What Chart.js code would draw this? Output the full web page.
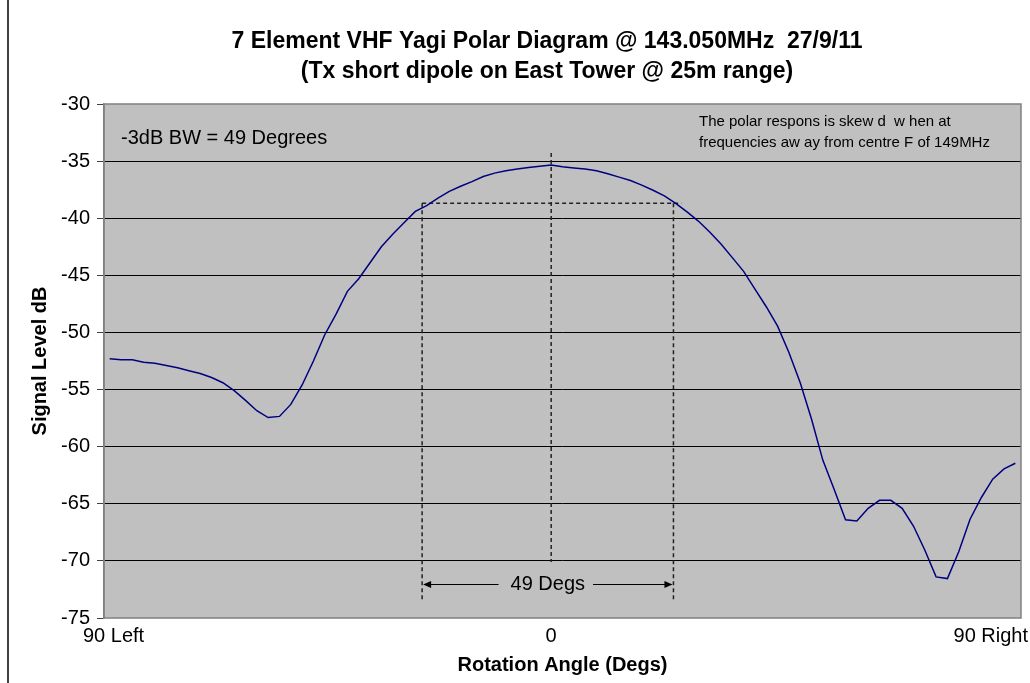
<!DOCTYPE html>
<html>
<head>
<meta charset="utf-8">
<script src="https://cdn.jsdelivr.net/npm/chart.js@4/dist/chart.umd.min.js"></script>
<style>
    html, body { margin: 0; padding: 0; background: #fff; }
    #wrap { width: 1030px; height: 683px; position: relative; }
</style>
</head>
<body>
<div id="wrap"><canvas id="polar" width="1030" height="683"></canvas></div>
<script>
// Measured signal level (dB), one reading per rotation step, left to right
const signalDb = [
    -52.3, -52.4, -52.4, -52.6, -52.7, -52.9, -53.1, -53.35, -53.6, -53.95,
    -54.4, -55.1, -55.95, -56.85, -57.45, -57.35, -56.3, -54.6, -52.5, -50.2,
    -48.4, -46.4, -45.3, -43.9, -42.5, -41.4, -40.4, -39.4, -38.9, -38.25,
    -37.65, -37.2, -36.8, -36.35, -36.05, -35.85, -35.7, -35.55, -35.45, -35.35,
    -35.5, -35.6, -35.7, -35.85, -36.1, -36.4, -36.7, -37.1, -37.55, -38.05,
    -38.7, -39.45, -40.25, -41.2, -42.25, -43.45, -44.65, -46.2, -47.75, -49.45,
    -51.75, -54.4, -57.6, -61.2, -63.75, -66.4, -66.5, -65.4, -64.7, -64.7,
    -65.4, -66.95, -69.05, -71.4, -71.55, -69.2, -66.35, -64.45, -62.85, -61.95,
    -61.45
];

// Category tick labels (only three are shown)
const tickIndex = [0, 39, 80];
const tickText = ['90 Left', '0', '90 Right'];

// Y axis range
const yMin = -75;
const yMax = -30;
const yStep = 5;

// -3dB beamwidth markers (category position / dB)
const peakIndex = 39;
const bwLevel = -38.7;
const bwLeft = 27.6;
const bwRight = 49.8;
const bwLineEnd = 50.5;
const centreTop = -34.3;
const centreBottom = -70.1;
const sideBottom = -73.6;
const arrowLevel = -72;

const titleLines = [
    '7 Element VHF Yagi Polar Diagram @ 143.050MHz  27/9/11',
    '(Tx short dipole on East Tower @ 25m range)'
];
const noteLines = [
    'The polar respons is skew d  w hen at',
    'frequencies aw ay from centre F of 149MHz'
];
const bwNote = '-3dB BW = 49 Degrees';
const bwArrowText = '49 Degs';

const FONT = '"Liberation Sans", Arial, sans-serif';

const categories = signalDb.map((v, i) => {
    const k = tickIndex.indexOf(i);
    return k >= 0 ? tickText[k] : '';
});

/**
 * Extra drawing: plot background, frame, titles and the beamwidth annotation
 */
const decorPlugin = {
    id: 'decor',
    beforeDraw(chart) {
        const ctx = chart.ctx;
        const a = chart.chartArea;
        ctx.save();
        ctx.fillStyle = '#c0c0c0';
        ctx.fillRect(a.left, a.top, a.right - a.left, a.bottom - a.top);
        ctx.restore();
    },
    beforeDatasetsDraw(chart) {
        const ctx = chart.ctx;
        const xs = chart.scales.x;
        const ys = chart.scales.y;
        const xl = xs.getPixelForValue(bwLeft);
        const xr = xs.getPixelForValue(bwRight);
        const xc = xs.getPixelForValue(peakIndex);
        const yl = ys.getPixelForValue(bwLevel);

        ctx.save();
        ctx.strokeStyle = '#222';
        ctx.lineWidth = 1.5;
        ctx.setLineDash([4, 3]);
        ctx.beginPath();
        ctx.moveTo(xl, yl);
        ctx.lineTo(xs.getPixelForValue(bwLineEnd), yl);
        ctx.moveTo(xc, ys.getPixelForValue(centreTop));
        ctx.lineTo(xc, ys.getPixelForValue(centreBottom));
        ctx.moveTo(xl, yl);
        ctx.lineTo(xl, ys.getPixelForValue(sideBottom));
        ctx.moveTo(xr, yl);
        ctx.lineTo(xr, ys.getPixelForValue(sideBottom));
        ctx.stroke();

        // double arrow with label
        const ya = Math.round(ys.getPixelForValue(arrowLevel)) + 0.5;
        ctx.setLineDash([]);
        ctx.lineWidth = 1.2;
        ctx.strokeStyle = '#000';
        ctx.fillStyle = '#000';
        ctx.font = '20px ' + FONT;
        ctx.textAlign = 'center';
        ctx.textBaseline = 'middle';
        const tw = ctx.measureText(bwArrowText).width;
        const mid = (xl + xr) / 2;
        ctx.fillText(bwArrowText, mid, ya);
        ctx.beginPath();
        ctx.moveTo(xl + 2, ya);
        ctx.lineTo(mid - tw / 2 - 12, ya);
        ctx.moveTo(mid + tw / 2 + 8, ya);
        ctx.lineTo(xr - 2, ya);
        ctx.stroke();
        [[xl + 1, 1], [xr - 1, -1]].forEach(([x, d]) => {
            ctx.beginPath();
            ctx.moveTo(x, ya);
            ctx.lineTo(x + 8 * d, ya - 3.5);
            ctx.lineTo(x + 8 * d, ya + 3.5);
            ctx.closePath();
            ctx.fill();
        });
        ctx.restore();
    },
    afterDraw(chart) {
        const ctx = chart.ctx;
        const a = chart.chartArea;
        const xs = chart.scales.x;
        ctx.save();

        // plot frame
        ctx.strokeStyle = '#808080';
        ctx.lineWidth = 1.5;
        ctx.strokeRect(a.left, a.top, a.right - a.left, a.bottom - a.top);

        // outer chart border (left edge)
        ctx.strokeStyle = '#000';
        ctx.lineWidth = 1.5;
        ctx.beginPath();
        ctx.moveTo(8, 0);
        ctx.lineTo(8, chart.height);
        ctx.stroke();

        ctx.fillStyle = '#000';
        ctx.textAlign = 'center';
        ctx.textBaseline = 'middle';

        // titles
        ctx.font = 'bold 23px ' + FONT;
        ctx.fillText(titleLines[0], 547, 42);
        ctx.fillText(titleLines[1], 547, 72);

        // axis titles
        ctx.font = 'bold 20px ' + FONT;
        ctx.fillText('Rotation Angle (Degs)', (a.left + a.right) / 2, 665);
        ctx.save();
        ctx.translate(40, (a.top + a.bottom) / 2);
        ctx.rotate(-Math.PI / 2);
        ctx.fillText('Signal Level dB', 0, 0);
        ctx.restore();

        // category labels, kept inside the chart like Excel does
        ctx.font = '20px ' + FONT;
        tickIndex.forEach((idx, k) => {
            const w = ctx.measureText(tickText[k]).width;
            let x = xs.getPixelForValue(idx);
            x = Math.max(x, 83 + w / 2);
            x = Math.min(x, chart.width - 2 - w / 2);
            ctx.fillText(tickText[k], x, 636);
        });

        // notes inside the plot
        ctx.textAlign = 'left';
        ctx.font = '20px ' + FONT;
        ctx.fillText(bwNote, 121, 138);
        ctx.font = '15px ' + FONT;
        ctx.fillText(noteLines[0], 699, 122);
        ctx.fillText(noteLines[1], 699, 143);
        ctx.restore();
    }
};

new Chart(document.getElementById('polar'), {
    type: 'line',
    data: {
        labels: categories,
        datasets: [{
            data: signalDb,
            borderColor: '#000080',
            borderWidth: 1.5,
            pointRadius: 0,
            tension: 0,
            fill: false
        }]
    },
    options: {
        responsive: false,
        animation: false,
        devicePixelRatio: 1,
        layout: { padding: { left: 0, right: 9, top: 104, bottom: 0 } },
        plugins: {
            legend: { display: false },
            tooltip: { enabled: false },
            title: { display: false }
        },
        scales: {
            x: {
                type: 'category',
                offset: true,
                grid: { display: false },
                border: { display: false },
                ticks: { display: false },
                afterFit(scale) { scale.height = 65; }
            },
            y: {
                min: yMin,
                max: yMax,
                border: { display: true, color: '#808080', width: 1.5 },
                grid: {
                    color: ctx => (ctx.tick && (ctx.tick.value === yMin || ctx.tick.value === yMax)) ? 'rgba(0,0,0,0)' : '#000',
                    lineWidth: 1,
                    tickColor: '#404040',
                    tickLength: 7
                },
                ticks: {
                    stepSize: yStep,
                    padding: 7,
                    color: '#000',
                    font: { family: FONT, size: 20 }
                },
                afterFit(scale) { scale.width = 104; }
            }
        }
    },
    plugins: [decorPlugin]
});
</script>
</body>
</html>
